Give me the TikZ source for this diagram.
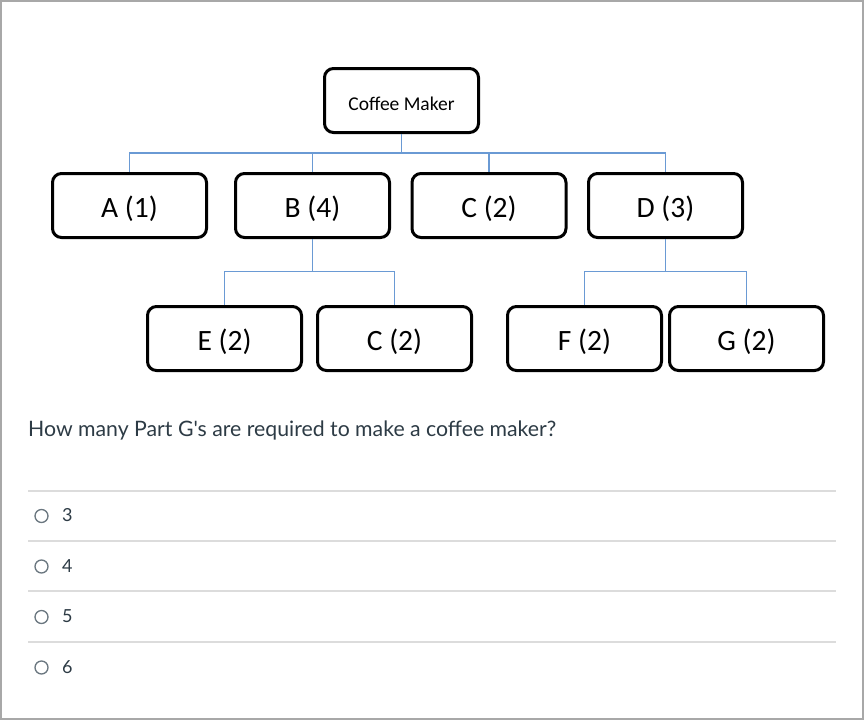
\documentclass[tikz,border=0pt]{standalone}
\usepackage{fontspec}
\newfontfamily\boxfont{Carlito}
\newfontfamily\latofont{Lato}
\usetikzlibrary{calc}
\definecolor{frame}{HTML}{A8A8A8}
\definecolor{conncol}{HTML}{6A9AD4}
\definecolor{qtext}{HTML}{2D3B45}
\definecolor{rule}{HTML}{DCDCDC}
\definecolor{radio}{HTML}{6B7780}
\tikzset{
  part/.style={draw=black, line width=3pt, rounded corners=9pt, fill=white,
    minimum width=154pt, minimum height=64pt, inner sep=0pt,
    text height=23.5pt, text depth=0pt,
    font=\boxfont\fontsize{29.5}{32}\selectfont, text=black},
  topbox/.style={part, text height=19pt, text depth=0pt, font=\boxfont\fontsize{19.5}{22}\selectfont},
  conn/.style={draw=conncol, line width=1.3pt},
  sep/.style={draw=rule, line width=2pt},
  radiobtn/.style={draw=radio, line width=1.3pt, circle, minimum size=13pt, inner sep=0pt},
  answer/.style={anchor=base west, inner sep=0pt, text=qtext, font=\latofont\fontsize{18}{20}\selectfont}
}
\begin{document}
\begin{tikzpicture}[x=1pt,y=-1pt]
\useasboundingbox (0,0) rectangle (864,720);
\fill[white] (0,0) rectangle (864,720);
\draw[frame, line width=2pt] (1,1) rectangle (863,719);

% boxes
\node[topbox] (cm) at (401.5,100.5) {Coffee Maker};
\node[part] (A) at (129.5,205.5) {A (1)};
\node[part] (B) at (312.5,205.5) {B (4)};
\node[part] (C1) at (489,205.5) {C (2)};
\node[part] (D) at (665.5,205.5) {D (3)};
\node[part] (E) at (224.5,338.5) {E (2)};
\node[part] (C2) at (394.5,338.5) {C (2)};
\node[part] (F) at (584.5,338.5) {F (2)};
\node[part] (G) at (746.5,338.5) {G (2)};

% connectors
\coordinate (j1) at (401.5,153);
\coordinate (j2) at (312.5,271.5);
\coordinate (j3) at (665.5,271.5);
\draw[conn] (cm.south) -- (j1);
\draw[conn] (A.north) |- (j1) -| (D.north);
\draw[conn] (B.north) |- (j1);
\draw[conn] (C1.north) |- (j1);
\draw[conn] (B.south) -- (j2);
\draw[conn] (E.north) |- (j2) -| (C2.north);
\draw[conn] (D.south) -- (j3);
\draw[conn] (F.north) |- (j3) -| (G.north);

% question
\node[anchor=base west, inner sep=0pt, text=qtext] (q) at (28,436)
  {\resizebox{528pt}{!}{\latofont\fontsize{19}{22}\selectfont How many Part G's are required to make a coffee maker?}};

% rules
\coordinate (r1a) at (28,491); \coordinate (r1b) at (836,491);
\coordinate (r2a) at (28,541); \coordinate (r2b) at (836,541);
\coordinate (r3a) at (28,591); \coordinate (r3b) at (836,591);
\coordinate (r4a) at (28,642); \coordinate (r4b) at (836,642);
\draw[sep] (r1a) -- (r1b);
\draw[sep] (r2a) -- (r2b);
\draw[sep] (r3a) -- (r3b);
\draw[sep] (r4a) -- (r4b);

% answers
\node[radiobtn] (o1) at (41.5,516) {};
\node[answer] (a1) at (62,521.5) {3};
\node[radiobtn] (o2) at (41.5,566.5) {};
\node[answer] (a2) at (62,572) {4};
\node[radiobtn] (o3) at (41.5,617) {};
\node[answer] (a3) at (62,622.5) {5};
\node[radiobtn] (o4) at (41.5,667.5) {};
\node[answer] (a4) at (62,673) {6};
\end{tikzpicture}
\end{document}
